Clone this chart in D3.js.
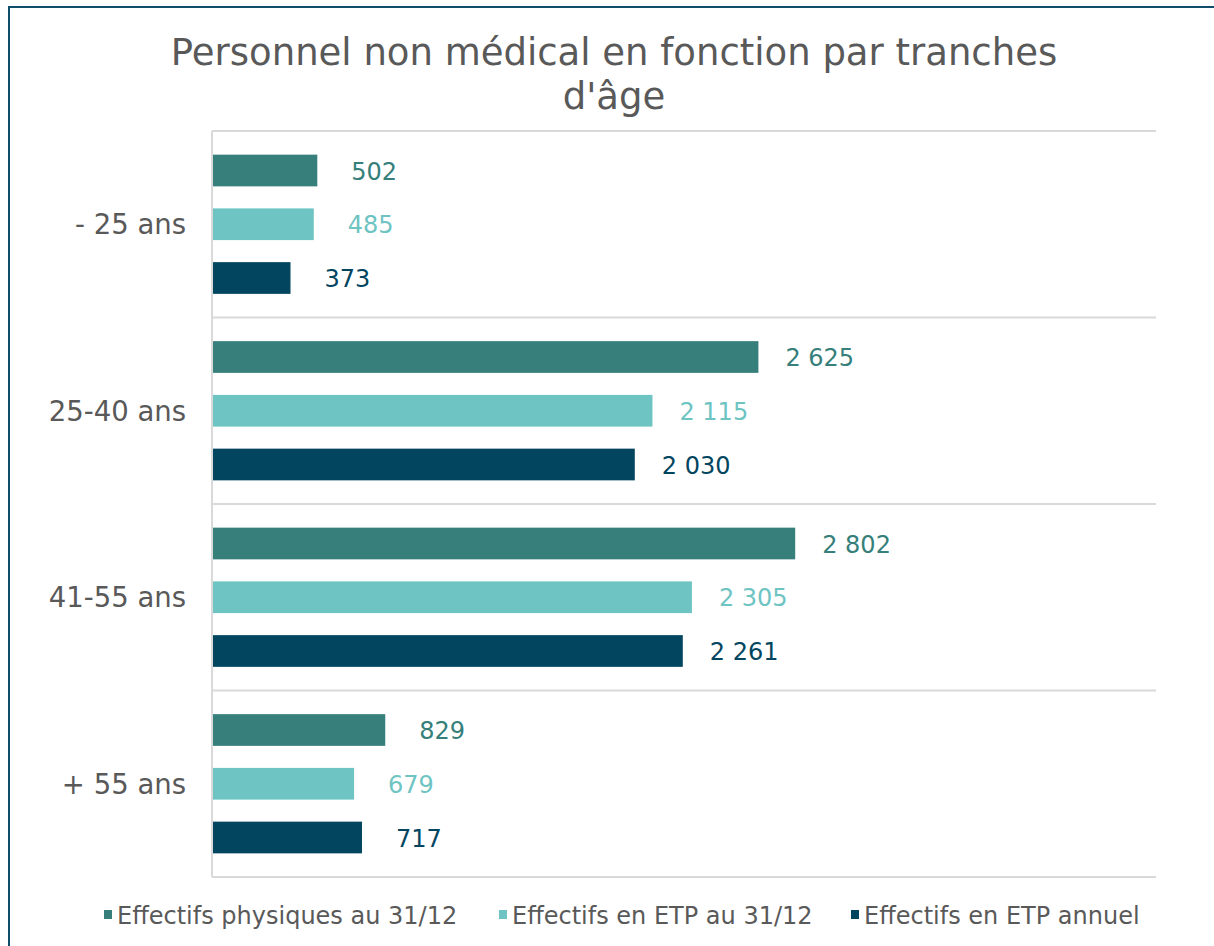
<!DOCTYPE html>
<html>
  <head>
    <meta charset="utf-8">
    <title>Personnel non médical</title>
    <script type="text/javascript" src="https://d3js.org/d3.v7.min.js"></script>
    <style>
      body { margin: 0; background: #ffffff; }
      text { font-family: "DejaVu Sans", Verdana, sans-serif; }
    </style>
  </head>
  <body>
    <script type="text/javascript">

      // data
      var categories = ["- 25 ans", "25-40 ans", "41-55 ans", "+ 55 ans"];
      var seriesNames = ["Effectifs physiques au 31/12", "Effectifs en ETP au 31/12", "Effectifs en ETP annuel"];
      var physiques = [502, 2625, 2802, 829];
      var etp3112 = [485, 2115, 2305, 679];
      var etpAnnuel = [373, 2030, 2261, 717];
      var colors = ["#367F7B", "#6EC4C2", "#01455F"];

      var width = 1214;
      var height = 946;

      var svg = d3.select("body")
          .append("svg")
          .attr("width", width)
          .attr("height", height);

      // outer frame (right and bottom run off the picture)
      svg.append("rect")
          .attr("x", 9)
          .attr("y", 7)
          .attr("width", 1300)
          .attr("height", 1000)
          .attr("fill", "none")
          .attr("stroke", "#0E4E6B")
          .attr("stroke-width", 2);

      svg.append("text")
          .attr("x", 614)
          .attr("y", 65)
          .attr("text-anchor", "middle")
          .style("font-size", "37px")
          .style("fill", "#595959")
          .text("Personnel non médical en fonction par tranches");
      svg.append("text")
          .attr("x", 614)
          .attr("y", 109)
          .attr("text-anchor", "middle")
          .style("font-size", "37px")
          .style("fill", "#595959")
          .text("d'âge");

      var rows = categories.map(function(c, i) {
        return { cat: c, values: [physiques[i], etp3112[i], etpAnnuel[i]] };
      });

      var xScale = d3.scaleLinear().domain([0, 4500]).range([213, 1148]);
      var yScale = d3.scaleBand().domain(categories).range([131, 877]);
      var inner = d3.scaleBand().domain([0, 1, 2])
          .range([0, yScale.bandwidth()])
          .paddingInner(0.41)
          .paddingOuter(0.44);

      // gridlines between categories
      var bounds = categories.map(function(c) { return yScale(c); }).concat([yScale.range()[1]]);
      svg.selectAll(".grid")
          .data(bounds)
          .enter()
          .append("line")
          .attr("class", "grid")
          .attr("x1", 212)
          .attr("x2", 1156)
          .attr("y1", function(d) { return d; })
          .attr("y2", function(d) { return d; })
          .attr("stroke", "#D9D9D9")
          .attr("stroke-width", 2);

      svg.append("line")
          .attr("x1", 212).attr("x2", 212)
          .attr("y1", 131).attr("y2", 877)
          .attr("stroke", "#D9D9D9")
          .attr("stroke-width", 2);

      var groups = svg.selectAll(".cat")
          .data(rows)
          .enter()
          .append("g")
          .attr("class", "cat")
          .attr("transform", function(d) { return "translate(0," + yScale(d.cat) + ")"; });

      groups.selectAll("rect")
          .data(function(d) { return d.values; })
          .enter()
          .append("rect")
          .attr("x", xScale(0))
          .attr("y", function(d, i) { return inner(i); })
          .attr("width", function(d) { return xScale(d) - xScale(0); })
          .attr("height", inner.bandwidth())
          .attr("fill", function(d, i) { return colors[i]; });

      var fmt = function(v) { return d3.format(",")(v).replace(",", " "); };

      groups.selectAll(".val")
          .data(function(d) { return d.values; })
          .enter()
          .append("text")
          .attr("class", "val")
          .attr("x", function(d) { return xScale(d) + (d >= 1000 ? 27 : 34); })
          .attr("y", function(d, i) { return inner(i) + inner.bandwidth() / 2; })
          .attr("dy", "0.38em")
          .style("font-size", "24px")
          .style("fill", function(d, i) { return colors[i]; })
          .text(fmt);

      groups.append("text")
          .attr("x", 186)
          .attr("y", yScale.bandwidth() / 2)
          .attr("dy", "0.36em")
          .attr("text-anchor", "end")
          .style("font-size", "27.5px")
          .style("fill", "#595959")
          .text(function(d) { return d.cat; });

      // legend
      var legendX = [104, 499, 851];
      var legend = svg.selectAll(".legend")
          .data(seriesNames)
          .enter()
          .append("g")
          .attr("class", "legend")
          .attr("transform", function(d, i) { return "translate(" + legendX[i] + ",915)"; });

      legend.append("rect")
          .attr("x", 0)
          .attr("y", -5)
          .attr("width", 8)
          .attr("height", 9)
          .attr("fill", function(d, i) { return colors[i]; });

      legend.append("text")
          .attr("x", 13)
          .attr("y", 0)
          .attr("dy", "0.36em")
          .style("font-size", "24px")
          .style("fill", "#595959")
          .text(function(d) { return d; });

    </script>
  </body>
</html>
